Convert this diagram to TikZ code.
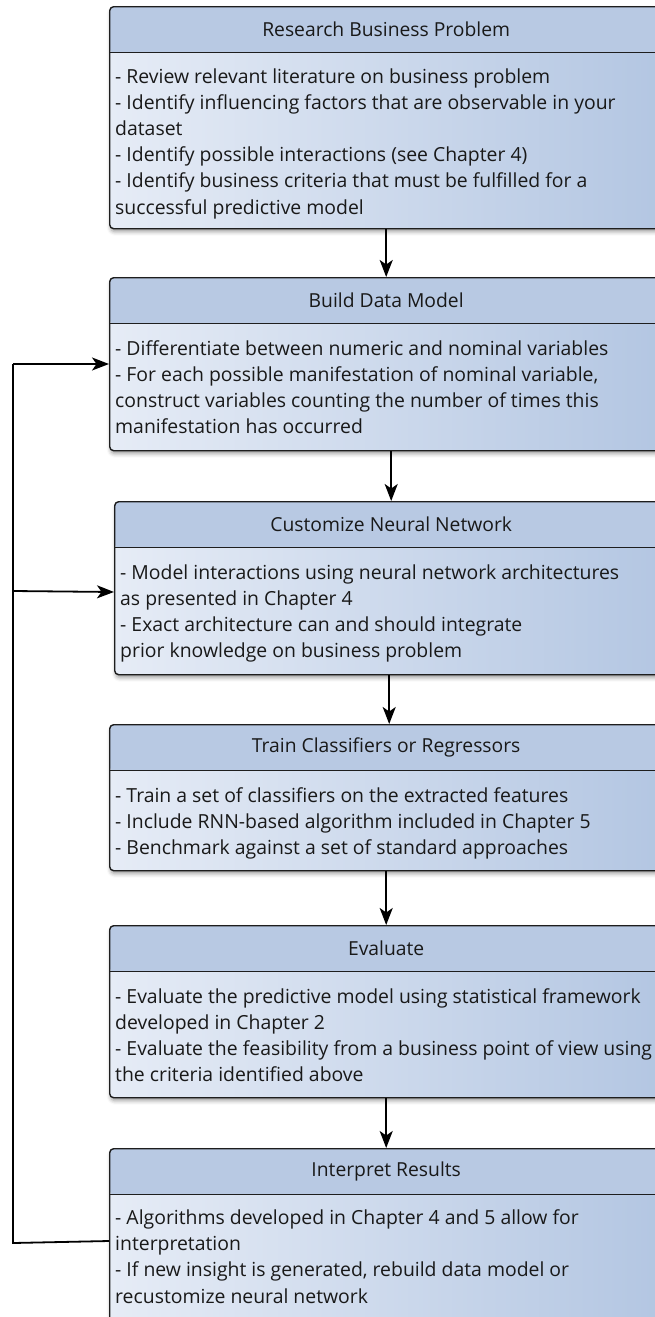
\documentclass[tikz,border=0pt]{standalone}
\usepackage{fontspec}
\setmainfont{Open Sans}
\usetikzlibrary{arrows.meta,shadows.blur,calc}

\definecolor{headcol}{HTML}{B8C9E3}
\definecolor{bodyL}{HTML}{E6ECF6}
\definecolor{bodyR}{HTML}{B3C6E2}
\definecolor{edgecol}{HTML}{1E1E1E}

\tikzset{
  stage/.style={
    draw=edgecol, line width=1.4pt, rounded corners=4pt,
    anchor=north west, inner sep=0pt, minimum width=553pt,
    left color=bodyL, right color=bodyR,
    blur shadow={shadow xshift=1pt, shadow yshift=-3pt, shadow blur radius=4pt, shadow opacity=40},
    path picture={
      \path[left color=headcol, right color=headcol]
        (path picture bounding box.north west) rectangle
        ([yshift=-46pt]path picture bounding box.north east);
      \draw[edgecol, line width=1.4pt]
        ([yshift=-46pt]path picture bounding box.north west) --
        ([yshift=-46pt]path picture bounding box.north east);
    }
  },
  headtext/.style={font=\fontsize{19.3}{26.2}\selectfont, inner sep=0pt, text=black!90},
  bodytext/.style={font=\fontsize{19.4}{26.2}\selectfont, inner sep=0pt, align=left,
    anchor=north west, text=black!90},
  flow/.style={draw=black, line width=1.8pt,
    -{Stealth[length=17pt, width=13pt, inset=4.5pt]}}
}

\begin{document}
\begin{tikzpicture}[x=1pt, y=-1pt]
\useasboundingbox (0,0) rectangle (654,1317);

% ---- stage boxes ----
\node[stage, minimum height=222pt] (b1) at (109,6) {};
\node[stage, minimum height=173pt] (b2) at (109,277) {};
\node[stage, minimum height=173pt] (b3) at (114,501) {};
\node[stage, minimum height=146pt] (b4) at (109,724) {};
\node[stage, minimum height=172pt] (b5) at (109,925) {};
\node[stage, minimum height=176pt] (b6) at (109,1148) {};

% ---- titles ----
\node[headtext] (t1) at ($(b1.north)+(0,23)$) {Research Business Problem};
\node[headtext] (t2) at ($(b2.north)+(0,23)$) {Build Data Model};
\node[headtext] (t3) at ($(b3.north)+(0,23)$) {Customize Neural Network};
\node[headtext] (t4) at ($(b4.north)+(0,23)$) {Train Classifiers or Regressors};
\node[headtext] (t5) at ($(b5.north)+(0,23)$) {Evaluate};
\node[headtext] (t6) at ($(b6.north)+(0,23)$) {Interpret Results};

% ---- descriptions (the strut fixes the height of the first line) ----
\node[bodytext] (d1) at ($(b1.north west)+(6,58.5)$) {%
\strut- Review relevant literature on business problem\\
- Identify influencing factors that are observable in your\\
dataset\\
- Identify possible interactions (see Chapter 4)\\
- Identify business criteria that must be fulfilled for a\\
successful predictive model};
\node[bodytext] (d2) at ($(b2.north west)+(6,59.7)$) {%
\strut- Differentiate between numeric and nominal variables\\
- For each possible manifestation of nominal variable,\\
construct variables counting the number of times this\\
manifestation has occurred};
\node[bodytext] (d3) at ($(b3.north west)+(6,59.7)$) {%
\strut- Model interactions using neural network architectures\\
as presented in Chapter 4\\
- Exact architecture can and should integrate\\
prior knowledge on business problem};
\node[bodytext] (d4) at ($(b4.north west)+(6,59.7)$) {%
\strut- Train a set of classifiers on the extracted features\\
- Include RNN-based algorithm included in Chapter 5\\
- Benchmark against a set of standard approaches};
\node[bodytext] (d5) at ($(b5.north west)+(6,59.7)$) {%
\strut- Evaluate the predictive model using statistical framework\\
developed in Chapter 2\\
- Evaluate the feasibility from a business point of view using\\
the criteria identified above};
\node[bodytext] (d6) at ($(b6.north west)+(6,58)$) {%
\strut- Algorithms developed in Chapter 4 and 5 allow for\\
interpretation\\
- If new insight is generated, rebuild data model or\\
recustomize neural network};

% ---- main flow ----
\draw[flow] (b1.south) -- (b1.south |- b2.north);
\draw[flow] (b2.south -| b3.north) -- (b3.north);
\draw[flow] ($(b3.south)+(-2,0)$) -- ($(b3.south |- b4.north)+(-2,0)$);
\draw[flow] (b4.south) -- (b5.north);
\draw[flow] (b5.south) -- (b6.north);

% ---- feedback loop ----
\coordinate (fbBottom) at (13,1243);
\coordinate (fbTop) at (13,364);
\coordinate (fbMid) at (13,591);
\draw[flow, -] ($(b6.west |- fbBottom)+(0,-2)$) -- (fbBottom) -- (fbTop);
\draw[flow] (fbTop) -- (b2.west |- fbTop);
\draw[flow] (fbMid) -- ($(b3.west |- fbMid)+(0,1)$);
\end{tikzpicture}
\end{document}
